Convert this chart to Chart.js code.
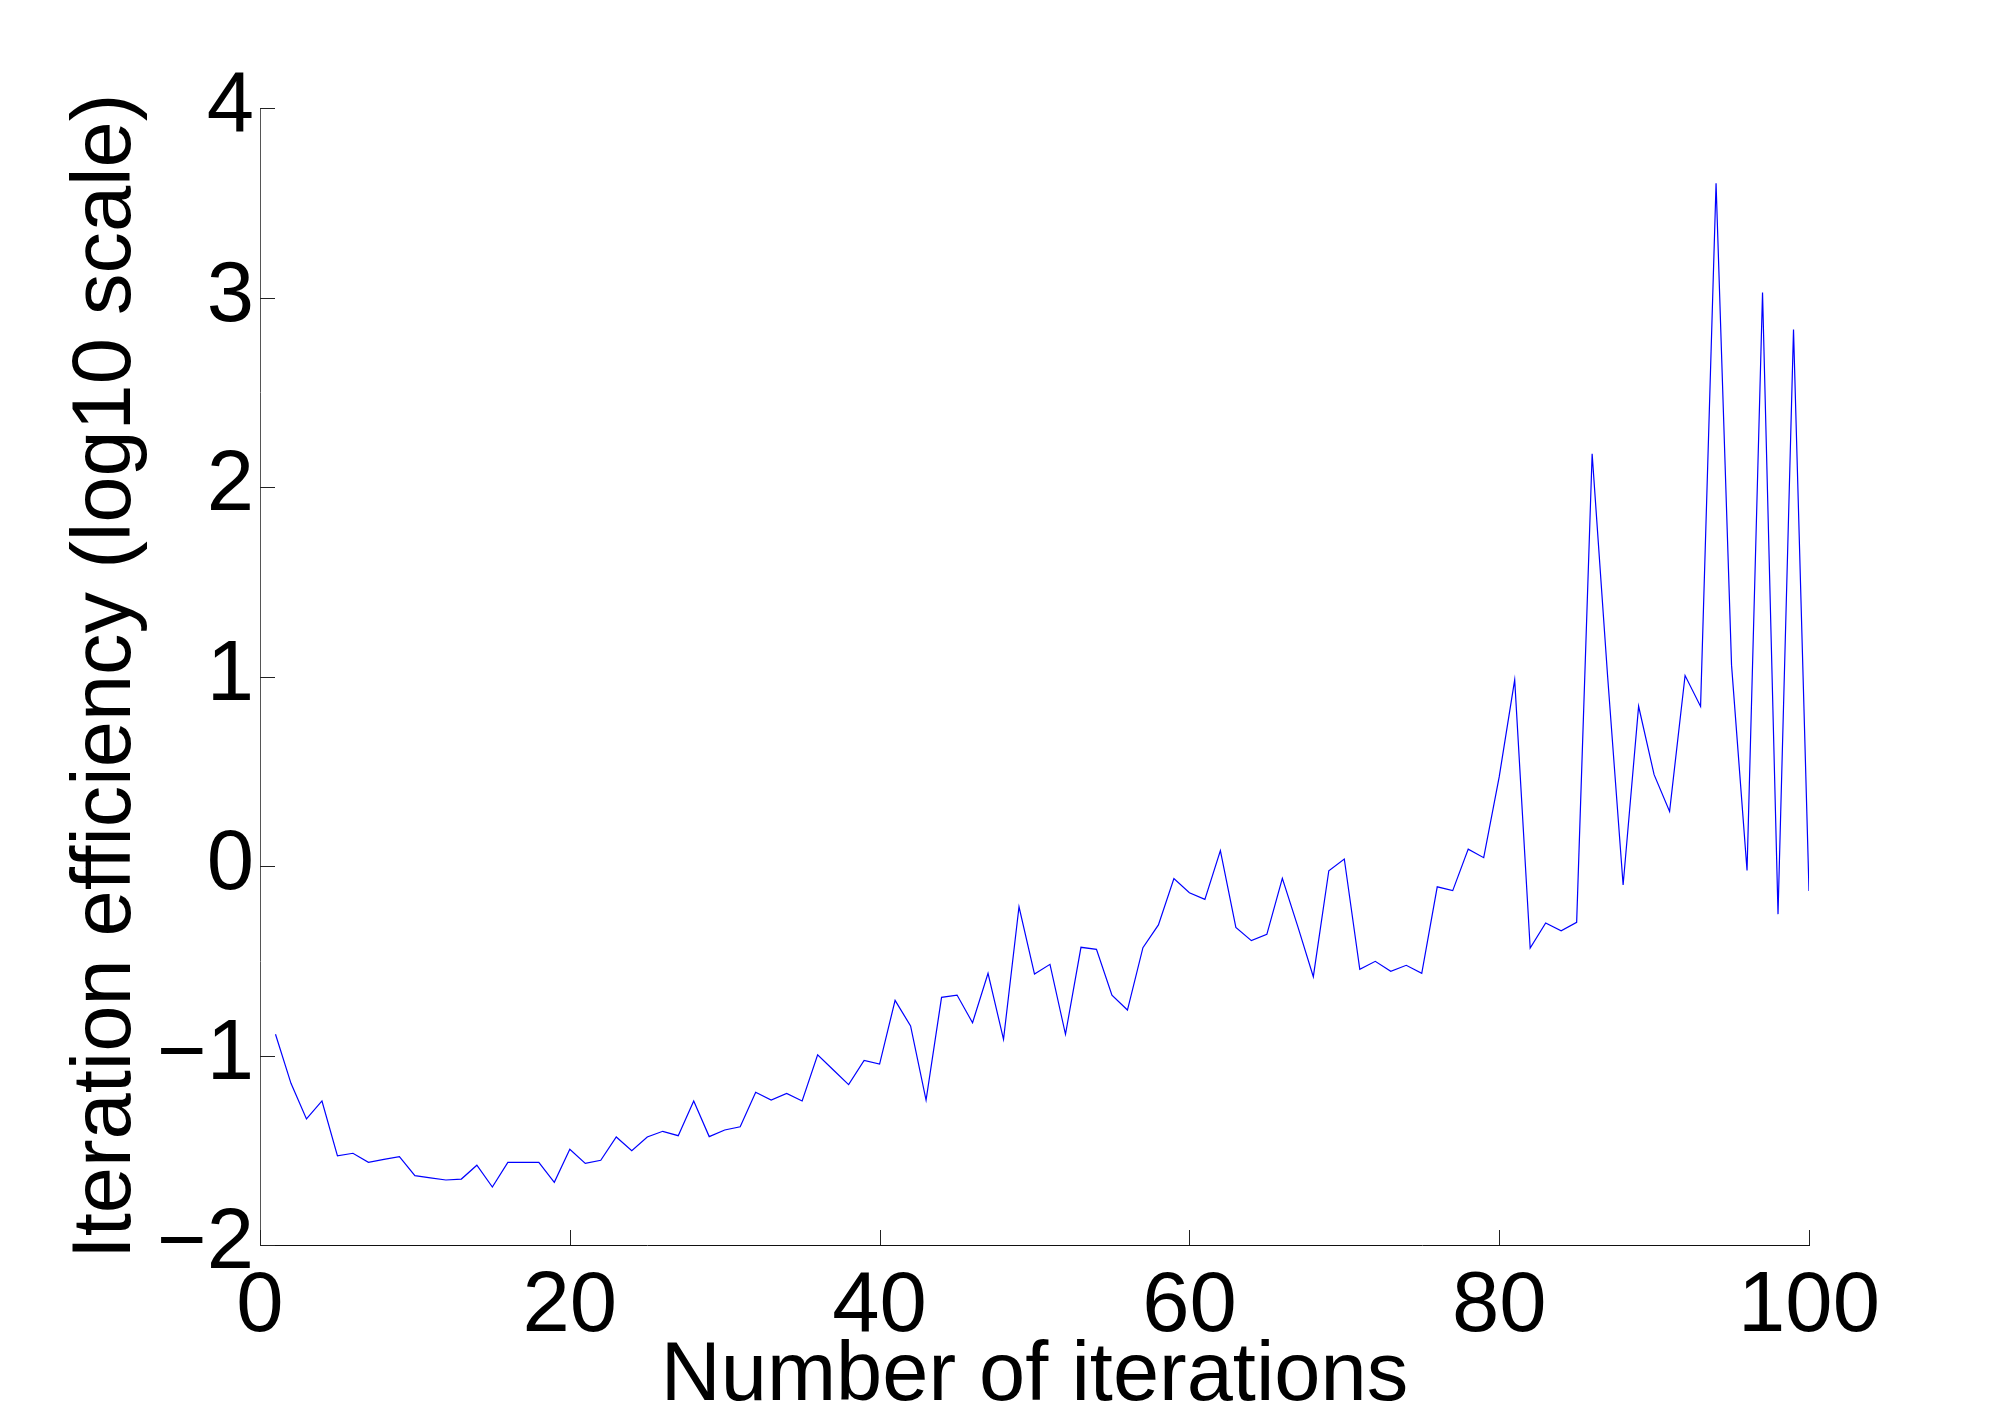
<!DOCTYPE html>
<html>
<head>
<meta charset="utf-8">
<style>
  html, body { margin: 0; padding: 0; background: #ffffff; }
  #wrap { width: 2000px; height: 1419px; position: relative; }
  canvas { display: block; }
</style>
<script src="https://cdn.jsdelivr.net/npm/chart.js@4.4.1/dist/chart.umd.min.js"></script>
</head>
<body>
<div id="wrap"><canvas id="c" width="2000" height="1419"></canvas></div>
<script>
// ---- Data ----
const iterations = Array.from({length: 100}, (_, i) => i + 1);
const efficiencyLog10 = [
  -0.888, -1.147, -1.335, -1.240, -1.530, -1.516, -1.564, -1.548, -1.534, -1.634,
  -1.646, -1.657, -1.652, -1.579, -1.694, -1.564, -1.564, -1.564, -1.669, -1.495,
  -1.569, -1.553, -1.430, -1.502, -1.430, -1.400, -1.423, -1.240, -1.428, -1.393,
  -1.376, -1.194, -1.235, -1.200, -1.240, -0.996, -1.075, -1.154, -1.026, -1.045,
  -0.709, -0.844, -1.235, -0.693, -0.681, -0.827, -0.566, -0.915, -0.215, -0.570,
  -0.519, -0.888, -0.429, -0.440, -0.682, -0.760, -0.431, -0.311, -0.066, -0.141,
  -0.176,  0.081, -0.324, -0.394, -0.361, -0.065, -0.320, -0.584, -0.025,  0.037,
  -0.545, -0.503, -0.556, -0.524, -0.566, -0.110, -0.130,  0.089,  0.044,  0.470,
   0.982, -0.433, -0.301, -0.342, -0.297,  2.175,  1.000, -0.100,  0.843,  0.482,
   0.288,  1.005,  0.842,  3.603,  1.060, -0.024,  3.026, -0.254,  2.831, -0.132
];
const xTickValues = [0, 20, 40, 60, 80, 100];
const yTickValues = [-2, -1, 0, 1, 2, 3, 4];
const xTitle = 'Number of iterations';
const yTitle = 'Iteration efficiency (log10 scale)';

const points = iterations.map((x, i) => ({x: x, y: efficiencyLog10[i]}));

const FONT = '"Liberation Sans", Arial, Helvetica, sans-serif';

// inward tick marks (MATLAB style)
const inwardTicks = {
  id: 'inwardTicks',
  afterDatasetsDraw(chart) {
    const ctx = chart.ctx;
    const xs = chart.scales.x, ys = chart.scales.y;
    const area = chart.chartArea;
    ctx.save();
    ctx.lineWidth = 1;
    ctx.strokeStyle = '#222222';
    ctx.beginPath();
    ys.ticks.forEach(t => {
      const p = Math.round(ys.getPixelForValue(t.value)) + 0.5;
      ctx.moveTo(area.left, p);
      ctx.lineTo(area.left + 15, p);
    });
    xs.ticks.forEach(t => {
      const p = Math.round(xs.getPixelForValue(t.value)) + 0.5;
      ctx.moveTo(p, area.bottom);
      ctx.lineTo(p, area.bottom - 15);
    });
    ctx.stroke();
    ctx.restore();
  }
};

new Chart(document.getElementById('c'), {
  type: 'line',
  data: {
    datasets: [{
      data: points,
      borderColor: '#0000ff',
      borderWidth: 1.2,
      pointRadius: 0,
      tension: 0,
      fill: false
    }]
  },
  options: {
    responsive: false,
    animation: false,
    devicePixelRatio: 1,
    layout: { padding: { top: 108, right: 191, bottom: 0, left: 0 } },
    plugins: { legend: { display: false }, tooltip: { enabled: false } },
    scales: {
      x: {
        type: 'linear',
        min: 0, max: 100,
        afterBuildTicks: s => { s.ticks = xTickValues.map(v => ({value: v})); },
        afterFit: s => { s.height = 174; },
        grid: { display: false },
        border: { display: true, color: '#111111', width: 1 },
        ticks: {
          color: '#000000',
          padding: 12,
          maxRotation: 0,
          autoSkip: false,
          font: { family: FONT, size: 85, lineHeight: 1 },
          callback: v => String(v)
        },
        title: {
          display: true,
          text: xTitle,
          color: '#000000',
          font: { family: FONT, size: 83, lineHeight: 1 },
          padding: { top: 0, bottom: 0 }
        }
      },
      y: {
        type: 'linear',
        min: -2, max: 4,
        afterBuildTicks: s => { s.ticks = yTickValues.map(v => ({value: v})); },
        afterFit: s => { s.width = 260; },
        grid: { display: false },
        border: { display: true, color: '#555555', width: 1 },
        ticks: {
          color: '#000000',
          padding: -2,
          autoSkip: false,
          font: { family: FONT, size: 85, lineHeight: 1 },
          callback: v => (v < 0 ? '\u2212' + Math.abs(v) : String(v))
        },
        title: {
          display: true,
          text: yTitle,
          color: '#000000',
          font: { family: FONT, size: 83, lineHeight: 1 },
          padding: { top: 66, bottom: 0 }
        }
      }
    }
  },
  plugins: [inwardTicks]
});
</script>
</body>
</html>
